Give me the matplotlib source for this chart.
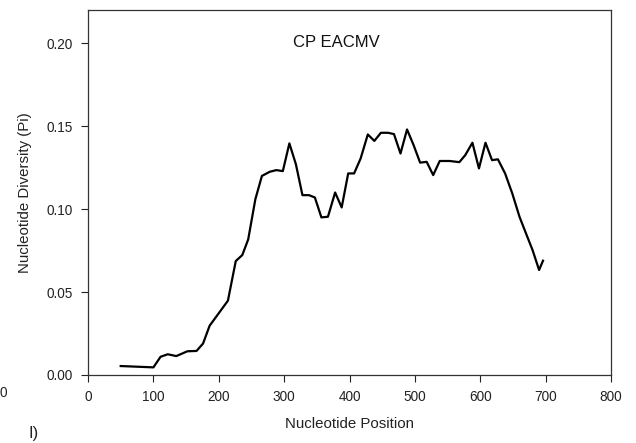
import matplotlib
matplotlib.use("Agg")
import matplotlib.pyplot as plt

plt.rcParams['font.family'] = ['Liberation Sans', 'DejaVu Sans']

position = [50, 100, 111, 122, 135, 152, 166, 176, 186, 214, 226, 236, 245, 256,
            266, 278, 288, 298, 308, 318, 328, 338, 347, 357, 367, 378, 388, 398,
            407, 417, 428, 438, 448, 459, 468, 478, 488, 498, 508, 518, 528, 538,
            553, 568, 577, 588, 598, 608, 618, 627, 638, 649, 660, 669, 680, 690, 696]
diversity = [0.0054, 0.0046, 0.0110, 0.0125, 0.0114, 0.0143, 0.0145, 0.0190, 0.0297,
             0.0448, 0.0687, 0.0723, 0.0817, 0.1060, 0.1200, 0.1225, 0.1235, 0.1229,
             0.1396, 0.1270, 0.1084, 0.1084, 0.1070, 0.0950, 0.0954, 0.1100, 0.1010,
             0.1215, 0.1215, 0.1305, 0.1450, 0.1411, 0.1460, 0.1460, 0.1452, 0.1335,
             0.1480, 0.1386, 0.1280, 0.1285, 0.1205, 0.1290, 0.1290, 0.1283, 0.1325,
             0.1400, 0.1245, 0.1400, 0.1295, 0.1300, 0.1215, 0.1094, 0.0954, 0.0863,
             0.0753, 0.0633, 0.0689]

xticks = [0, 100, 200, 300, 400, 500, 600, 700, 800]
yticks = [0.00, 0.05, 0.10, 0.15, 0.20]

fig = plt.figure(figsize=(6.36, 4.43), dpi=100)
ax = fig.add_axes([0.1384, 0.1535, 0.8223, 0.8239])
ax.plot(position, diversity, color='black', linewidth=1.6)
ax.set_xlim(0, 800)
ax.set_ylim(0, 0.22)
ax.set_xticks(xticks)
ax.set_yticks(yticks)
ax.set_yticklabels([f"{v:.2f}" for v in yticks])
ax.tick_params(direction='out', length=5, width=0.8, labelsize=9.8, colors='#222222', pad=6)
for s in ax.spines.values():
    s.set_color('#333333')
    s.set_linewidth(0.9)
ax.set_xlabel("Nucleotide Position", fontsize=10.8, color='#222222', labelpad=9)
ax.set_ylabel("Nucleotide Diversity (Pi)", fontsize=10.8, color='#222222', labelpad=10)
ax.text(0.475, 0.912, "CP EACMV", transform=ax.transAxes, ha='center', va='center',
        fontsize=12, color='#111111')
fig.text(0.0, 0.113, "0", ha='left', va='center', fontsize=9.8, color='#222222')
fig.text(0.045, 0.004, "I)", ha='left', va='bottom', fontsize=12, color='#222222')
fig.savefig("out.png", dpi=100)
